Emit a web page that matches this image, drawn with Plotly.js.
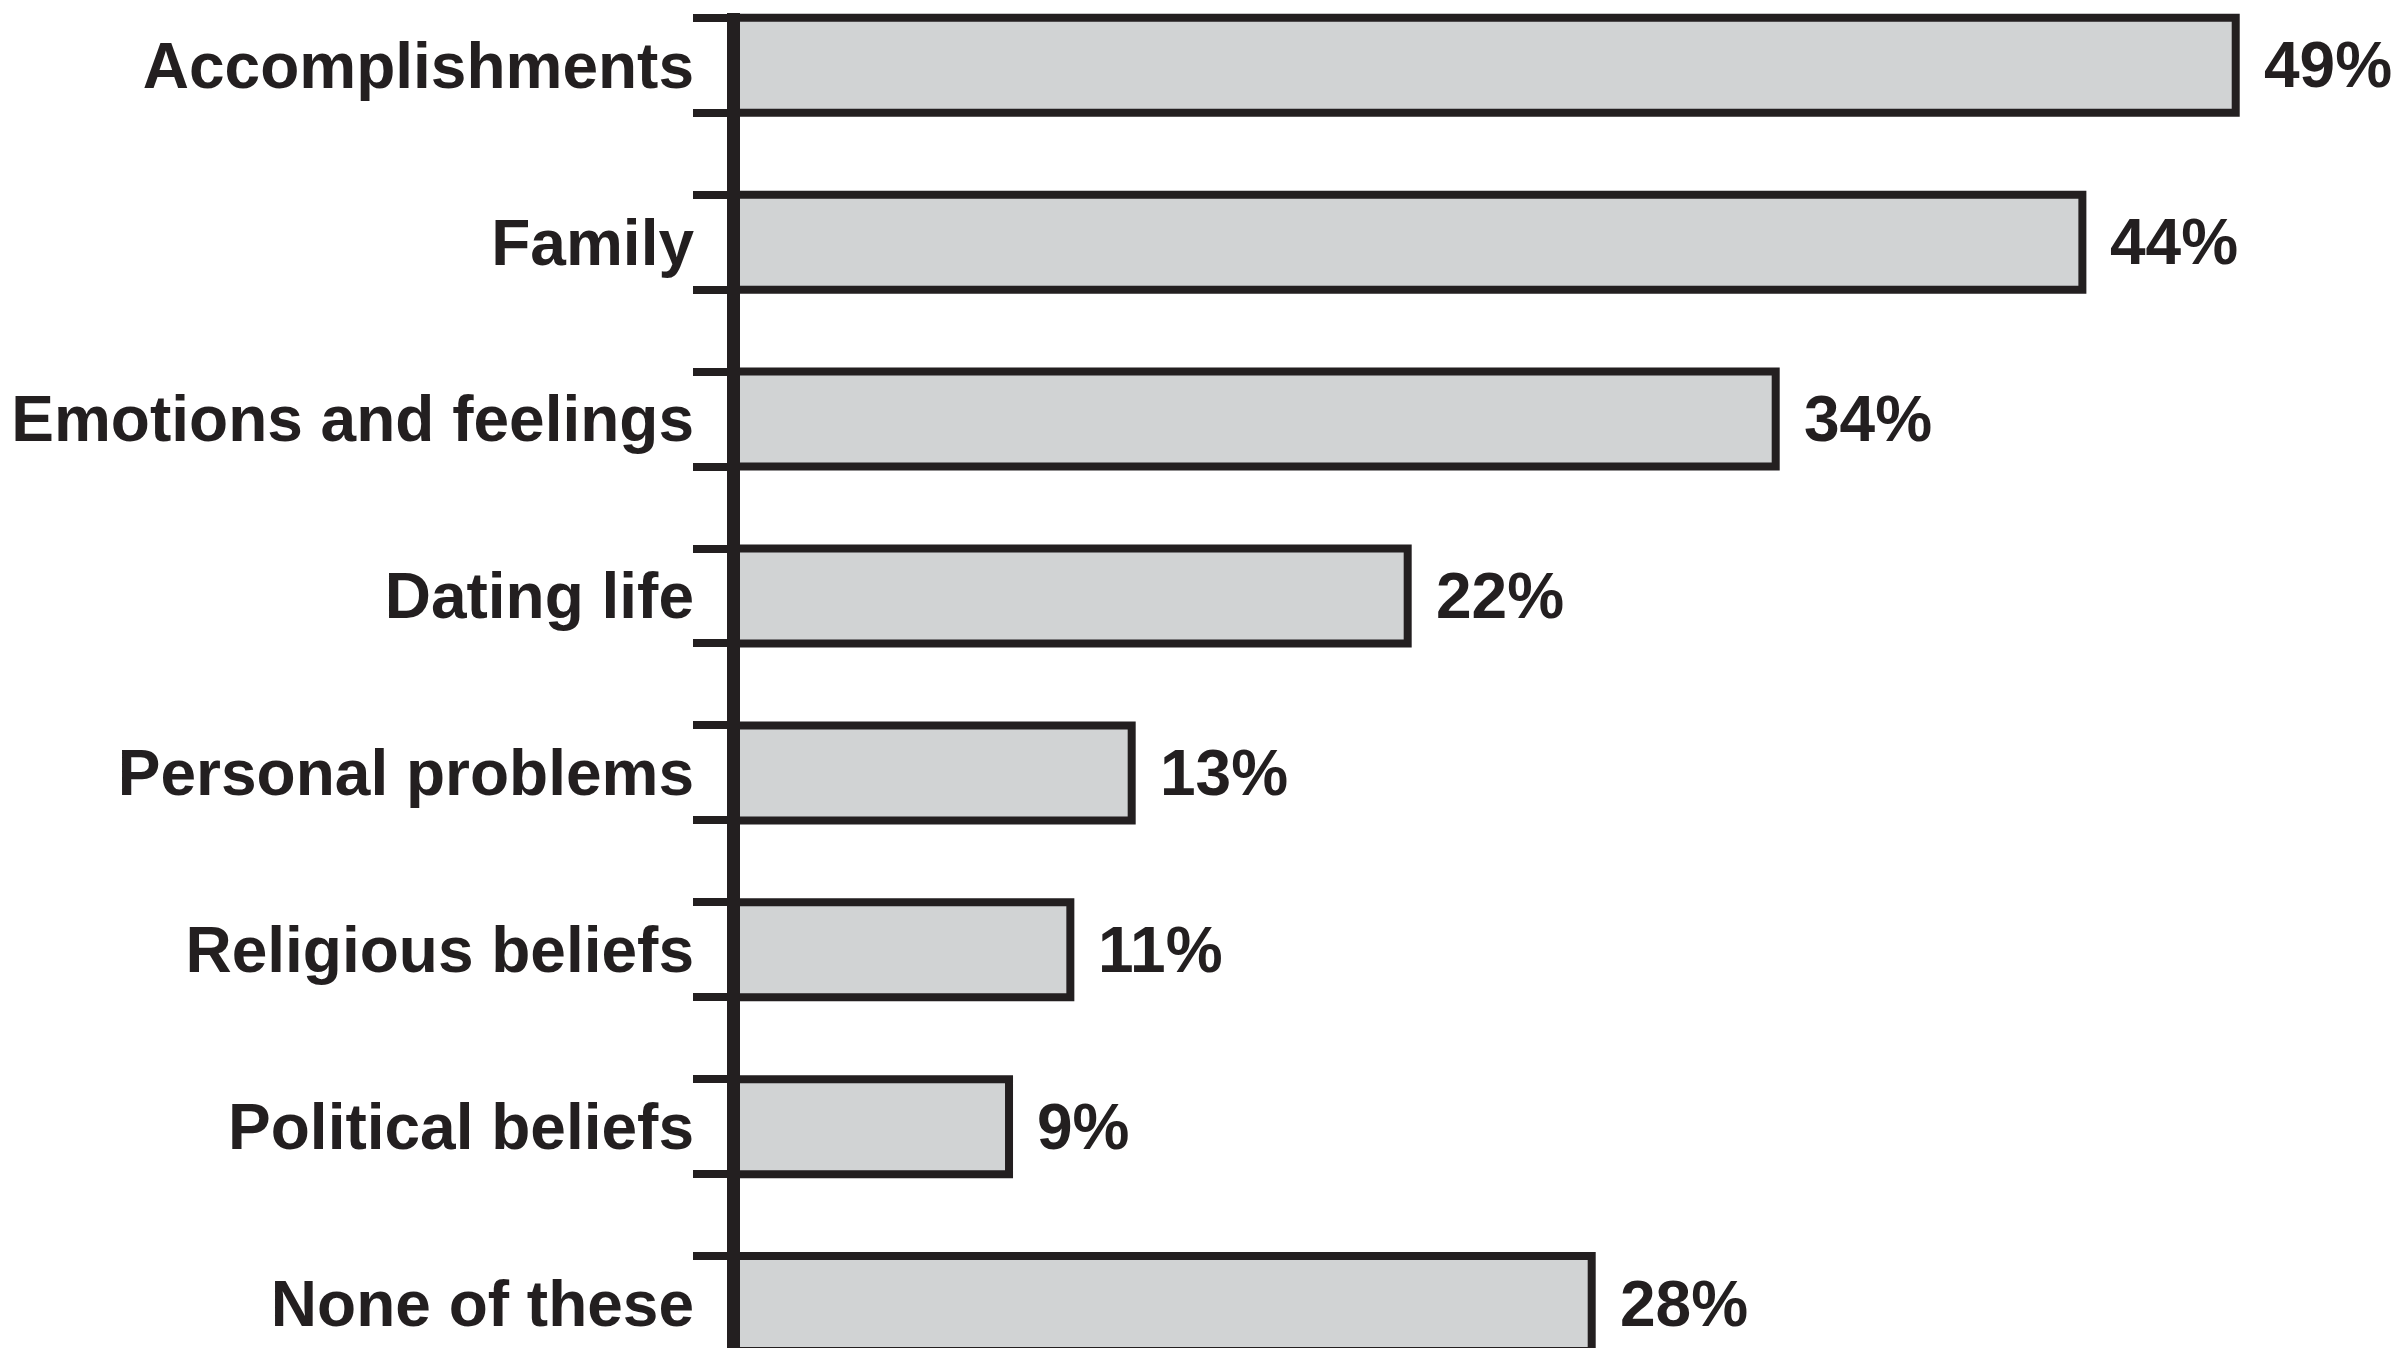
<!DOCTYPE html>
<html>
<head>
<meta charset="utf-8">
<script src="https://cdn.plot.ly/plotly-3.0.1.min.js"></script>
<style>
  html, body { margin: 0; padding: 0; background: #ffffff; }
  #chart { width: 2405px; height: 1348px; }
</style>
</head>
<body>
<div id="chart"></div>
<script>
const categories = [
  "Accomplishments",
  "Family",
  "Emotions and feelings",
  "Dating life",
  "Personal problems",
  "Religious beliefs",
  "Political beliefs",
  "None of these"
];
const values = [49, 44, 34, 22, 13, 11, 9, 28];
const valueLabels = ["49%", "44%", "34%", "22%", "13%", "11%", "9%", "28%"];

const INK = "#231f20";
const FILL = "#d1d3d4";
const FONT = "Liberation Sans, Arial, Helvetica, sans-serif";
const BAR_W = 0.537;

const positions = categories.map((c, i) => i);
const edgeTicks = [];
positions.forEach(p => { edgeTicks.push(p - BAR_W / 2, p + BAR_W / 2); });

const trace = {
  type: "bar",
  orientation: "h",
  x: values,
  y: positions,
  width: BAR_W,
  marker: { color: FILL, line: { color: INK, width: 8 } },
  hoverinfo: "skip",
  showlegend: false
};

const annotations = values.map((v, i) => ({
  x: v, y: positions[i], xref: "x", yref: "y",
  text: valueLabels[i],
  showarrow: false,
  xanchor: "left", yanchor: "middle",
  xshift: 26,
  font: { family: FONT, size: 64, color: INK, weight: "bold" }
}));

const yRange = [7.251, -0.2956];

const layout = {
  width: 2405, height: 1348,
  margin: { l: 740, r: 0, t: 13, b: 0, pad: 0 },
  paper_bgcolor: "#ffffff",
  plot_bgcolor: "#ffffff",
  showlegend: false,
  bargap: 0,
  xaxis: {
    range: [0.228, 54.52],
    visible: false,
    showgrid: false, zeroline: false, fixedrange: true
  },
  yaxis: {
    range: yRange,
    showline: true, linecolor: INK, linewidth: 13,
    ticks: "outside", tickvals: edgeTicks, ticklen: 34, tickwidth: 8, tickcolor: INK,
    showticklabels: false,
    showgrid: false, zeroline: false, fixedrange: true
  },
  yaxis2: {
    overlaying: "y", anchor: "x", side: "left",
    range: yRange,
    showline: false, ticks: "",
    tickvals: positions, ticktext: categories,
    ticklabelstandoff: 45,
    tickfont: { family: FONT, size: 64, color: INK, weight: "bold" },
    showgrid: false, zeroline: false, fixedrange: true
  },
  annotations: annotations
};

Plotly.newPlot("chart", [trace, { type: "scatter", x: [], y: [], yaxis: "y2", showlegend: false, hoverinfo: "skip" }], layout, { staticPlot: true, displayModeBar: false });
</script>
</body>
</html>
